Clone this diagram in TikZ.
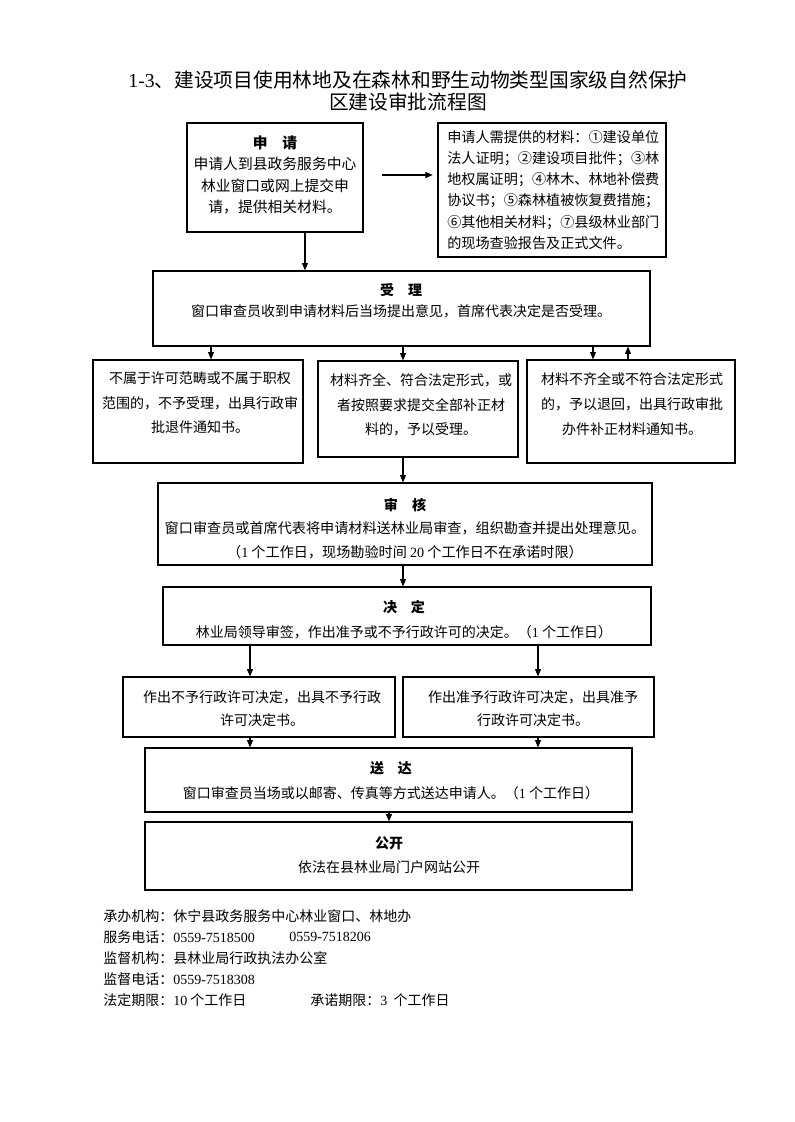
\documentclass[tikz,border=0pt]{standalone}
\usepackage{fontspec}
\setmainfont{Noto Sans CJK SC}
\newfontfamily\lat{Liberation Serif}
\usetikzlibrary{arrows.meta,fit}
\begin{document}
\begin{tikzpicture}[x=0.75pt,y=-0.75pt,
  box/.style={draw, line width=0.9pt, inner sep=0pt},
  arr/.style={draw, line width=0.8pt, -{Triangle[length=5.5pt,width=4.5pt]}},
  txt/.style={align=center, inner sep=0pt},
  ftxt/.style={anchor=west, inner sep=0pt, font=\fontsize{10.5}{12}\selectfont}]
\useasboundingbox (0,0) rectangle (794,1122);

% title
\node[txt, font=\fontsize{14.8}{16.5}\selectfont] (title) at (408,91)
  {{\lat 1-3}、建设项目使用林地及在森林和野生动物类型国家级自然保护\\区建设审批流程图};

% boxes
\node[box, fit={(187,123) (363,232)}] (shen) {};
\node[box, fit={(438,123) (666,257)}] (mat) {};
\node[box, fit={(153,271) (650,346)}] (shouli) {};
\node[box, fit={(93,360) (303,463)}] (bsl) {};
\node[box, fit={(318,361) (518,457)}] (sl) {};
\node[box, fit={(527,360) (735,463)}] (bq) {};
\node[box, fit={(158,483) (652,565)}] (shenhe) {};
\node[box, fit={(163,587) (651,645)}] (jd) {};
\node[box, fit={(123,677) (395,737)}] (bzy) {};
\node[box, fit={(403,677) (654,737)}] (zy) {};
\node[box, fit={(145,748) (632,812)}] (sd) {};
\node[box, fit={(145,822) (632,890)}] (gk) {};

% texts
\node[txt, font=\fontsize{11.1}{16}\selectfont] (shen-t) at (275,175)
  {\textbf{申\hspace{1em}请}\\申请人到县政务服务中心\\林业窗口或网上提交申\\请，提供相关材料。};
\node[txt, align=left, anchor=west, font=\fontsize{10.6}{15.9}\selectfont] (mat-t) at (447,190)
  {申请人需提供的材料：①建设单位\\法人证明；②建设项目批件；③林\\地权属证明；④林木、林地补偿费\\协议书；⑤森林植被恢复费措施；\\⑥其他相关材料；⑦县级林业部门\\的现场查验报告及正式文件。};
\node[txt, font=\fontsize{10.5}{15.75}\selectfont] (shouli-t) at (401,300.5)
  {\textbf{受\hspace{1em}理}\\窗口审查员收到申请材料后当场提出意见，首席代表决定是否受理。};
\node[txt, font=\fontsize{10.5}{18.5}\selectfont] (bsl-t) at (200,403)
  {不属于许可范畴或不属于职权\\范围的，不予受理，出具行政审\\批退件通知书。};
\node[txt, font=\fontsize{10.5}{18.5}\selectfont] (sl-t) at (421,405)
  {材料齐全、符合法定形式，或\\者按照要求提交全部补正材\\料的，予以受理。};
\node[txt, font=\fontsize{10.5}{18.5}\selectfont] (bq-t) at (632,404)
  {材料不齐全或不符合法定形式\\的，予以退回，出具行政审批\\办件补正材料通知书。};
\node[txt, font=\fontsize{10.6}{17.6}\selectfont] (shenhe-t) at (405,528.5)
  {\textbf{审\hspace{1em}核}\\窗口审查员或首席代表将申请材料送林业局审查，组织勘查并提出处理意见。\\（{\lat 1} 个工作日，现场勘验时间 {\lat 20} 个工作日不在承诺时限）};
\node[txt, font=\fontsize{10.5}{18.75}\selectfont] (jd-t) at (404,619.5)
  {\textbf{决\hspace{1em}定}\\林业局领导审签，作出准予或不予行政许可的决定。（{\lat 1} 个工作日）};
\node[txt, font=\fontsize{10.5}{17.25}\selectfont] (bzy-t) at (262,708.5)
  {作出不予行政许可决定，出具不予行政\\许可决定书。};
\node[txt, font=\fontsize{10.5}{17.25}\selectfont] (zy-t) at (533,708.5)
  {作出准予行政许可决定，出具准予\\行政许可决定书。};
\node[txt, font=\fontsize{10.5}{18.75}\selectfont] (sd-t) at (391,780.5)
  {\textbf{送\hspace{1em}达}\\窗口审查员当场或以邮寄、传真等方式送达申请人。（{\lat 1} 个工作日）};
\node[txt, font=\fontsize{10.5}{18}\selectfont] (gk-t) at (389,855)
  {\textbf{公开}\\依法在县林业局门户网站公开};

% footer
\node[ftxt] (f1) at (103,916) {承办机构：休宁县政务服务中心林业窗口、林地办};
\node[ftxt] (f2) at (103,937) {服务电话：{\lat 0559-7518500}};
\node[ftxt] (f2b) at (289,937) {\lat 0559-7518206};
\node[ftxt] (f3) at (103,958) {监督机构：县林业局行政执法办公室};
\node[ftxt] (f4) at (103,979) {监督电话：{\lat 0559-7518308}};
\node[ftxt] (f5) at (103,1000) {法定期限：{\lat 10} 个工作日};
\node[ftxt] (f5b) at (310,1000) {承诺期限：{\lat 3}\ \ 个工作日};

% column coordinates
\coordinate (ya) at (0,175);
\coordinate (c305) at (305,0);
\coordinate (c211) at (211,0);
\coordinate (c403) at (403,0);
\coordinate (c593) at (593,0);
\coordinate (c628) at (628,0);
\coordinate (c250) at (250,0);
\coordinate (c538) at (538,0);
\coordinate (c389) at (389,0);

% connectors
\draw[arr, shorten <=14pt, shorten >=3.5pt] (ya -| shen.east) -- (ya -| mat.west);
\draw[arr] (shen.south -| c305) -- (shouli.north -| c305);
\draw[arr] (shouli.south -| c211) -- (bsl.north -| c211);
\draw[arr] (shouli.south -| c403) -- (sl.north -| c403);
\draw[arr] (shouli.south -| c593) -- (bq.north -| c593);
\draw[arr] (bq.north -| c628) -- (shouli.south -| c628);
\draw[arr] (sl.south -| c403) -- (shenhe.north -| c403);
\draw[arr] (shenhe.south -| c403) -- (jd.north -| c403);
\draw[arr] (jd.south -| c250) -- (bzy.north -| c250);
\draw[arr] (jd.south -| c538) -- (zy.north -| c538);
\draw[arr] (bzy.south -| c250) -- (sd.north -| c250);
\draw[arr] (zy.south -| c538) -- (sd.north -| c538);
\draw[arr] (sd.south -| c389) -- (gk.north -| c389);
\end{tikzpicture}
\end{document}
